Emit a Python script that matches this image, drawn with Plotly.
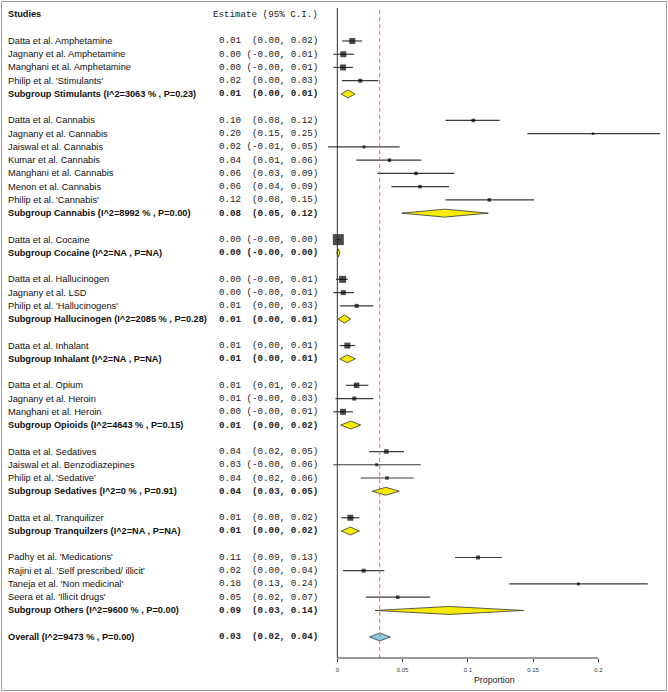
import plotly.graph_objects as go

# ---- data ----
group_studies = [
    ["Datta et al. Amphetamine", "Jagnany et al. Amphetamine",
     "Manghani et al. Amphetamine", "Philip et al. 'Stimulants'"],
    ["Datta et al. Cannabis", "Jagnany et al. Cannabis", "Jaiswal et al. Cannabis",
     "Kumar et al. Cannabis", "Manghani et al. Cannabis", "Menon et al. Cannabis",
     "Philip et al. 'Cannabis'"],
    ["Datta et al. Cocaine"],
    ["Datta et al. Hallucinogen", "Jagnany et al. LSD", "Philip et al. 'Hallucinogens'"],
    ["Datta et al. Inhalant"],
    ["Datta et al. Opium", "Jagnany et al. Heroin", "Manghani et al. Heroin"],
    ["Datta et al. Sedatives", "Jaiswal et al. Benzodiazepines", "Philip et al. 'Sedative'"],
    ["Datta et al. Tranquilizer"],
    ["Padhy et al. 'Medications'", "Rajini et al. 'Self prescribed/ illicit'",
     "Taneja et al. 'Non medicinal'", "Seera et al. 'Illicit drugs'"],
]
study_est = [
    [0.0115, 0.0046, 0.0044, 0.0176],
    [0.1042, 0.196, 0.0205, 0.0399, 0.0603, 0.0634, 0.1165],
    [0.0008],
    [0.0041, 0.0046, 0.0149],
    [0.0077],
    [0.0148, 0.013, 0.0044],
    [0.0376, 0.0302, 0.0381],
    [0.0100],
    [0.1078, 0.0202, 0.1847, 0.0463],
]
study_lo = [
    [0.0038, -0.003, -0.003, 0.0036],
    [0.083, 0.1456, -0.007, 0.0146, 0.0307, 0.0414, 0.0828],
    [-0.0005],
    [-0.001, -0.003, 0.002],
    [0.0018],
    [0.0067, -0.0015, -0.003],
    [0.0245, -0.003, 0.0179],
    [0.0031],
    [0.0902, 0.0044, 0.1318, 0.0218],
]
study_hi = [
    [0.019, 0.0128, 0.012, 0.0314],
    [0.1245, 0.25, 0.0478, 0.0644, 0.0897, 0.0856, 0.1507],
    [0.002],
    [0.008, 0.0128, 0.0276],
    [0.0138],
    [0.0238, 0.0276, 0.012],
    [0.0511, 0.0639, 0.0585],
    [0.0169],
    [0.126, 0.036, 0.2379, 0.071],
]
study_weight = [
    [6, 6, 6, 4],
    [3.5, 2.5, 3, 3.5, 3.5, 3.5, 3.5],
    [11],
    [7, 5, 4],
    [6],
    [5.5, 4, 6],
    [4.5, 3, 3.5],
    [6],
    [4, 4, 3, 3.5],
]

subgroup_labels = [
    "Subgroup Stimulants (I^2=3063 % , P=0.23)",
    "Subgroup Cannabis (I^2=8992 % , P=0.00)",
    "Subgroup Cocaine (I^2=NA , P=NA)",
    "Subgroup Hallucinogen (I^2=2085 % , P=0.28)",
    "Subgroup Inhalant (I^2=NA , P=NA)",
    "Subgroup Opioids (I^2=4643 % , P=0.15)",
    "Subgroup Sedatives (I^2=0 % , P=0.91)",
    "Subgroup Tranquilzers (I^2=NA , P=NA)",
    "Subgroup Others (I^2=9600 % , P=0.00)",
]
subgroup_est = [0.0082, 0.0823, 0.0008, 0.0054, 0.0077, 0.0103, 0.0371, 0.0100, 0.0858]
subgroup_lo = [0.003, 0.0493, -0.0004, 0.0005, 0.0018, 0.0026, 0.0268, 0.0031, 0.0289]
subgroup_hi = [0.0136, 0.1157, 0.0019, 0.0103, 0.0138, 0.0179, 0.0475, 0.0169, 0.1428]

overall_label = "Overall (I^2=9473 % , P=0.00)"
overall_est, overall_lo, overall_hi = 0.0325, 0.0248, 0.0406

x_tickvals = [0, 0.05, 0.1, 0.15, 0.2]
x_ticktext = ["0", "0.05", "0.1", "0.15", "0.2"]

# ---- geometry (pixels of the 668x692 page) ----
W, H = 668, 692
PX0, PX_PER_UNIT = 337.3, 1305.0       # x pixel of value 0, pixels per unit
PLOT_L, PLOT_R = 320, 660              # plotting region, px
PLOT_T, PLOT_B = 8, 658
ROW_TOP, ROW_BOT = -2.49, 46.59        # row range shown
LABEL_X, EST_X = 5.5, 320
DIAMOND_H = 0.3                        # half height in rows

SANS = "Arial, Liberation Sans, Helvetica, sans-serif"
MONO = "Liberation Mono, Courier New, monospace"
NB = "\u00a0"


def est_text(e, lo, hi):
    ci = f"({lo:.2f}, {hi:.2f})"
    return f"{e:.2f}" + NB + ci.rjust(13).replace(" ", NB)


def px_to_paper_x(px):
    return px / W


fig = go.Figure()
annotations = []


def add_label(row, text, bold=False):
    annotations.append(dict(
        x=px_to_paper_x(LABEL_X), y=row, xref="paper", yref="y",
        text=f"<b>{text}</b>" if bold else text, showarrow=False,
        xanchor="left", yanchor="middle",
        font=dict(family=SANS, size=9.2 if bold else 9.3, color="#111"),
    ))


def add_est(row, text, bold=False):
    annotations.append(dict(
        x=px_to_paper_x(EST_X), y=row, xref="paper", yref="y",
        text=f"<b>{text}</b>" if bold else text, showarrow=False,
        xanchor="right", yanchor="middle",
        font=dict(family=MONO, size=9.2, color="#222"),
    ))


def add_diamond(row, lo, e, hi, fill):
    fig.add_trace(go.Scatter(
        x=[lo, e, hi, e, lo], y=[row, row - DIAMOND_H, row, row + DIAMOND_H, row],
        mode="lines", fill="toself", fillcolor=fill,
        line=dict(color="#333", width=0.8), hoverinfo="skip", showlegend=False,
    ))


# header
add_label(-2, "Studies", bold=True)
annotations.append(dict(
    x=px_to_paper_x(EST_X), y=-2, xref="paper", yref="y",
    text="Estimate" + NB + "(95%" + NB + "C.I.)", showarrow=False,
    xanchor="right", yanchor="middle", font=dict(family=MONO, size=9.2, color="#222"),
))

sq_x, sq_y, sq_s = [], [], []
ci_x, ci_y = [], []
row = 0
for g, names in enumerate(group_studies):
    for k, name in enumerate(names):
        e, lo, hi = study_est[g][k], study_lo[g][k], study_hi[g][k]
        add_label(row, name)
        add_est(row, est_text(e, lo, hi))
        sq_x.append(e)
        sq_y.append(row)
        sq_s.append(study_weight[g][k])
        ci_x += [lo, hi, None]
        ci_y += [row, row, None]
        row += 1
    add_label(row, subgroup_labels[g], bold=True)
    add_est(row, est_text(subgroup_est[g], subgroup_lo[g], subgroup_hi[g]), bold=True)
    add_diamond(row, subgroup_lo[g], subgroup_est[g], subgroup_hi[g], "#f7ec00")
    row += 2

add_label(row, overall_label, bold=True)
add_est(row, est_text(overall_est, overall_lo, overall_hi), bold=True)
add_diamond(row, overall_lo, overall_est, overall_hi, "#8fcde6")

# confidence intervals under the study boxes
fig.add_trace(go.Scatter(
    x=ci_x, y=ci_y, mode="lines", line=dict(color="#3a3a3a", width=1.2),
    hoverinfo="skip", showlegend=False,
))
fig.add_trace(go.Scatter(
    x=sq_x, y=sq_y, mode="markers",
    marker=dict(symbol="square", size=sq_s, color="#000", line=dict(width=0)),
    hoverinfo="skip", showlegend=False,
))

annotations.append(dict(
    x=px_to_paper_x(494), y=(H - 680) / H, xref="paper", yref="paper",
    text="Proportion", showarrow=False, xanchor="center", yanchor="middle",
    font=dict(family=SANS, size=8.8, color="#222"),
))

y_bot = (H - PLOT_B) / H
y_top = (H - PLOT_T) / H
shapes = [
    # outer frame
    dict(type="rect", xref="paper", yref="paper", x0=1.5 / W, x1=666.5 / W,
         y0=1.5 / H, y1=690.5 / H, line=dict(color="#999", width=1)),
    # zero line
    dict(type="line", xref="x", yref="paper", x0=0, x1=0, y0=y_bot, y1=y_top,
         line=dict(color="#333", width=1)),
    # overall estimate reference line
    dict(type="line", xref="x", yref="paper", x0=overall_est, x1=overall_est,
         y0=y_bot, y1=y_top, line=dict(color="#ff5f50", width=1, dash="4px,3px")),
    # x axis line from first to last tick
    dict(type="line", xref="x", yref="paper", x0=x_tickvals[0], x1=x_tickvals[-1],
         y0=y_bot, y1=y_bot, line=dict(color="#333", width=1)),
]

fig.update_layout(
    width=W, height=H,
    margin=dict(l=0, r=0, t=0, b=0),
    paper_bgcolor="#ffffff", plot_bgcolor="#ffffff",
    showlegend=False,
    annotations=annotations,
    shapes=shapes,
    xaxis=dict(
        domain=[PLOT_L / W, PLOT_R / W],
        range=[(PLOT_L - PX0) / PX_PER_UNIT, (PLOT_R - PX0) / PX_PER_UNIT],
        tickmode="array", tickvals=x_tickvals, ticktext=x_ticktext,
        ticks="outside", ticklen=3, tickcolor="#333", ticklabelstandoff=3,
        tickfont=dict(family=SANS, size=6, color="#333"),
        showgrid=False, zeroline=False, showline=False, automargin=False,
    ),
    yaxis=dict(
        domain=[y_bot, y_top], range=[ROW_BOT, ROW_TOP],
        showticklabels=False, ticks="", showgrid=False, zeroline=False,
        showline=False, automargin=False,
    ),
)

fig.write_html("out.html", config={"displayModeBar": False},
               post_script="document.body.style.margin='0';")
